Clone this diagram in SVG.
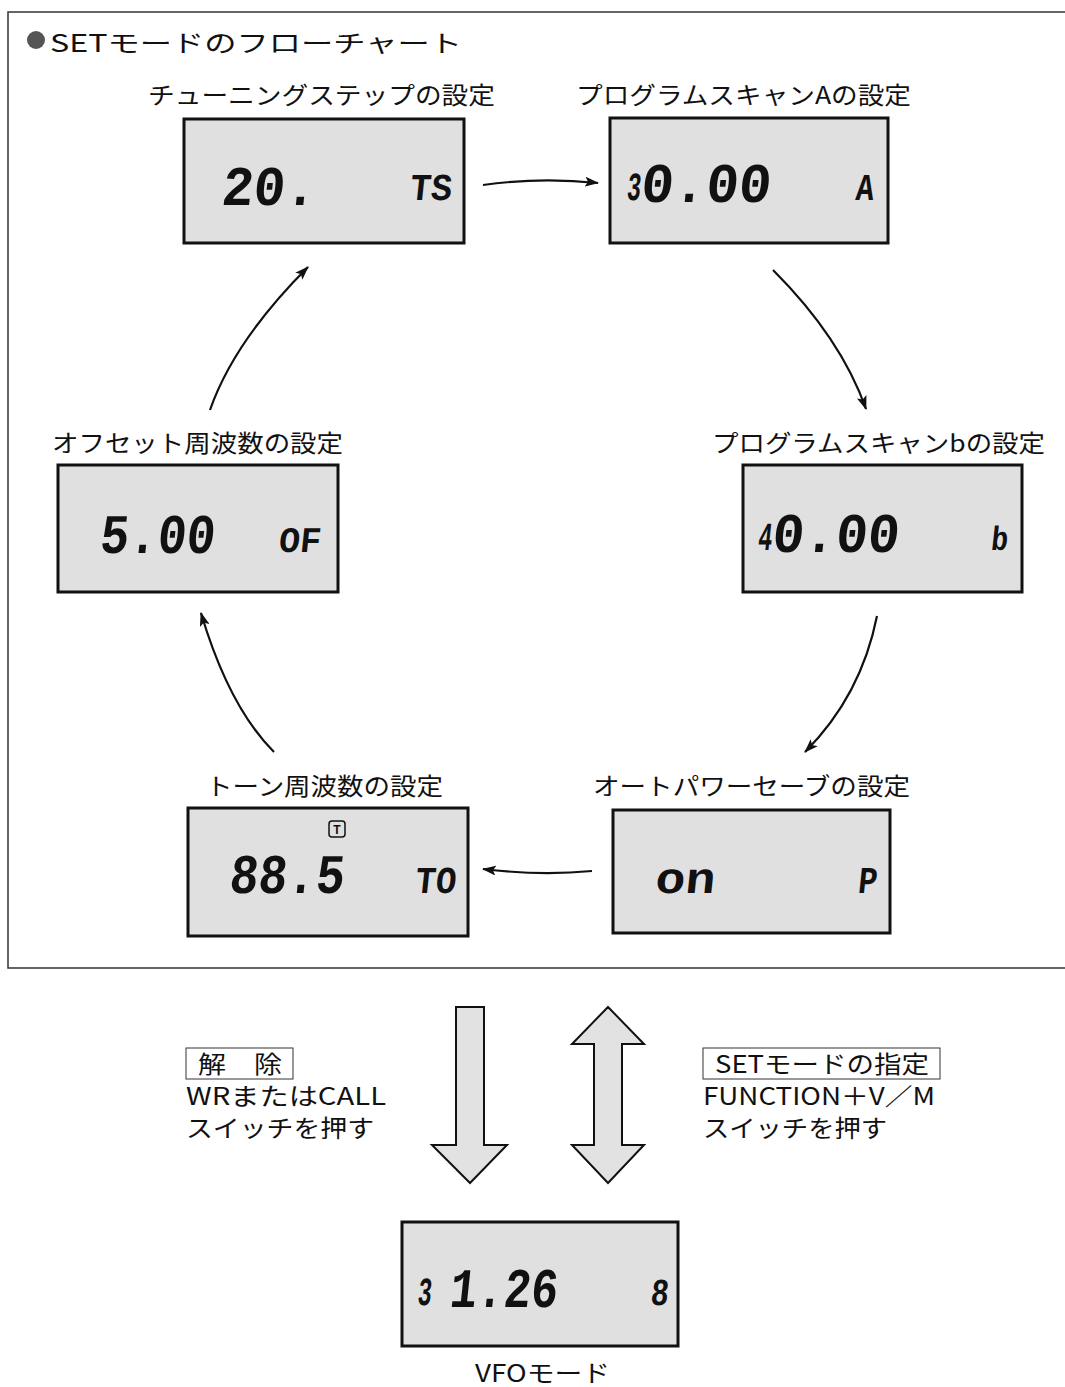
<svg xmlns="http://www.w3.org/2000/svg" width="1065" height="1387" viewBox="0 0 1065 1387">
<style>
.lbl{font-family:"Noto Sans CJK JP","Noto Sans",sans-serif;font-size:24px;fill:#111;}
.lcd{fill:#e0e0e0;stroke:#111;stroke-width:3;}
.seg{font-family:"Liberation Mono","DejaVu Sans Mono",monospace;font-weight:bold;fill:#111;}
.conn{fill:none;stroke:#111;stroke-width:2.2;}
.blk{fill:#e2e2e2;stroke:#111;stroke-width:2;stroke-linejoin:miter;}
</style>
<defs>
<marker id="ah" viewBox="0 0 14 10" refX="13" refY="5" markerWidth="14" markerHeight="10" markerUnits="userSpaceOnUse" orient="auto">
<path d="M0,0 L14,5 L0,10 L3,5 Z" fill="#111"/>
</marker>
</defs>
<rect width="1065" height="1387" fill="#fff"/>
<g id="frame" fill="none" stroke="#333" stroke-width="1.5">
<path d="M1065,12 H8 V968 H1065"/>
</g>
<g id="title">
<circle cx="36" cy="40" r="9" fill="#555"/>
<text class="lbl" x="50" y="52" font-size="30" textLength="412" lengthAdjust="spacingAndGlyphs">SETモードのフローチャート</text>
</g>
<g id="node-ts">
<text class="lbl" x="148" y="104" textLength="347" lengthAdjust="spacingAndGlyphs">チューニングステップの設定</text>
<rect class="lcd" x="184" y="119" width="280" height="124"/>
<g transform="skewX(-6)">
<text class="seg" x="242" y="205" font-size="56" textLength="95" lengthAdjust="spacingAndGlyphs">20.</text>
<text class="seg" x="430" y="200" font-size="38" textLength="42" lengthAdjust="spacingAndGlyphs">TS</text>
</g>
</g>
<g id="node-a">
<text class="lbl" x="576" y="104" textLength="335" lengthAdjust="spacingAndGlyphs">プログラムスキャンAの設定</text>
<rect class="lcd" x="610" y="118" width="278" height="125"/>
<g transform="skewX(-6)">
<text class="seg" x="647" y="200" font-size="40" textLength="14" lengthAdjust="spacingAndGlyphs">3</text>
<text class="seg" x="661" y="202" font-size="56" textLength="130" lengthAdjust="spacingAndGlyphs">0.00</text>
<text class="seg" x="876" y="200" font-size="38" textLength="18" lengthAdjust="spacingAndGlyphs">A</text>
</g>
</g>
<g id="node-b">
<text class="lbl" x="712" y="452" textLength="333" lengthAdjust="spacingAndGlyphs">プログラムスキャンbの設定</text>
<rect class="lcd" x="743" y="465" width="279" height="127"/>
<g transform="skewX(-6)">
<text class="seg" x="815" y="550" font-size="40" textLength="14" lengthAdjust="spacingAndGlyphs">4</text>
<text class="seg" x="829" y="552" font-size="56" textLength="127" lengthAdjust="spacingAndGlyphs">0.00</text>
<text class="seg" x="1048" y="550" font-size="34" textLength="17" lengthAdjust="spacingAndGlyphs">b</text>
</g>
</g>
<g id="node-of">
<text class="lbl" x="52" y="452" textLength="291" lengthAdjust="spacingAndGlyphs">オフセット周波数の設定</text>
<rect class="lcd" x="58" y="465" width="280" height="127"/>
<g transform="skewX(-6)">
<text class="seg" x="157" y="553" font-size="56" textLength="115" lengthAdjust="spacingAndGlyphs">5.00</text>
<text class="seg" x="336" y="552" font-size="36" textLength="42" lengthAdjust="spacingAndGlyphs">OF</text>
</g>
</g>
<g id="node-ap">
<text class="lbl" x="593" y="795" textLength="317" lengthAdjust="spacingAndGlyphs">オートパワーセーブの設定</text>
<rect class="lcd" x="613" y="810" width="277" height="123"/>
<g transform="skewX(-6)">
<text class="seg" x="748" y="893" font-size="44" textLength="60" lengthAdjust="spacingAndGlyphs">on</text>
<text class="seg" x="951" y="893" font-size="38" textLength="19" lengthAdjust="spacingAndGlyphs">P</text>
</g>
</g>
<g id="node-tone">
<text class="lbl" x="206" y="795" textLength="237" lengthAdjust="spacingAndGlyphs">トーン周波数の設定</text>
<rect class="lcd" x="188" y="808" width="280" height="128"/>
<rect x="329" y="821" width="16" height="16" rx="3" fill="none" stroke="#111" stroke-width="1.5"/>
<text x="337" y="834" font-family="Liberation Sans,sans-serif" font-size="12" font-weight="bold" text-anchor="middle" fill="#111">T</text>
<g transform="skewX(-6)">
<text class="seg" x="322" y="893" font-size="56" textLength="115" lengthAdjust="spacingAndGlyphs">88.5</text>
<text class="seg" x="508" y="893" font-size="38" textLength="41" lengthAdjust="spacingAndGlyphs">TO</text>
</g>
</g>
<g id="node-vfo">
<rect class="lcd" x="402" y="1222" width="276" height="124"/>
<g transform="skewX(-6)">
<text class="seg" x="554" y="1305" font-size="40" textLength="14" lengthAdjust="spacingAndGlyphs">3</text>
<text class="seg" x="586" y="1307" font-size="56" textLength="108" lengthAdjust="spacingAndGlyphs">1.26</text>
<text class="seg" x="787" y="1305" font-size="38" textLength="18" lengthAdjust="spacingAndGlyphs">8</text>
</g>
<text class="lbl" x="475" y="1382" textLength="135" lengthAdjust="spacingAndGlyphs">VFOモード</text>
</g>
<g id="connectors">
<path class="conn" d="M483,185 Q540,177 598,183" marker-end="url(#ah)"/>
<path class="conn" d="M773,270 Q841,338 866,409" marker-end="url(#ah)"/>
<path class="conn" d="M877,616 Q861,696 805,752" marker-end="url(#ah)"/>
<path class="conn" d="M592,871 Q540,876 483,869" marker-end="url(#ah)"/>
<path class="conn" d="M274,752 Q229,707 201,613" marker-end="url(#ah)"/>
<path class="conn" d="M210,410 Q234,341 308,267" marker-end="url(#ah)"/>
<path class="blk" d="M456,1007 H484 V1145 H507 L470,1183 L432,1145 H456 Z"/>
<path class="blk" d="M608,1007 L644,1044 H622 V1145 H644 L608,1183 L572,1145 H594 V1044 H572 Z"/>
</g>
<g id="release">
<rect x="186" y="1048" width="107" height="31" fill="none" stroke="#333" stroke-width="1"/>
<text class="lbl" x="198" y="1073" textLength="84" lengthAdjust="spacingAndGlyphs">解　除</text>
<text class="lbl" x="186" y="1105" textLength="200" lengthAdjust="spacingAndGlyphs">WRまたはCALL</text>
<text class="lbl" x="186" y="1137" textLength="188" lengthAdjust="spacingAndGlyphs">スイッチを押す</text>
</g>
<g id="set">
<rect x="703" y="1048" width="237" height="31" fill="none" stroke="#333" stroke-width="1"/>
<text class="lbl" x="715" y="1073" textLength="214" lengthAdjust="spacingAndGlyphs">SETモードの指定</text>
<text class="lbl" x="703" y="1105" textLength="232" lengthAdjust="spacingAndGlyphs">FUNCTION＋V／M</text>
<text class="lbl" x="703" y="1137" textLength="184" lengthAdjust="spacingAndGlyphs">スイッチを押す</text>
</g>
</svg>
